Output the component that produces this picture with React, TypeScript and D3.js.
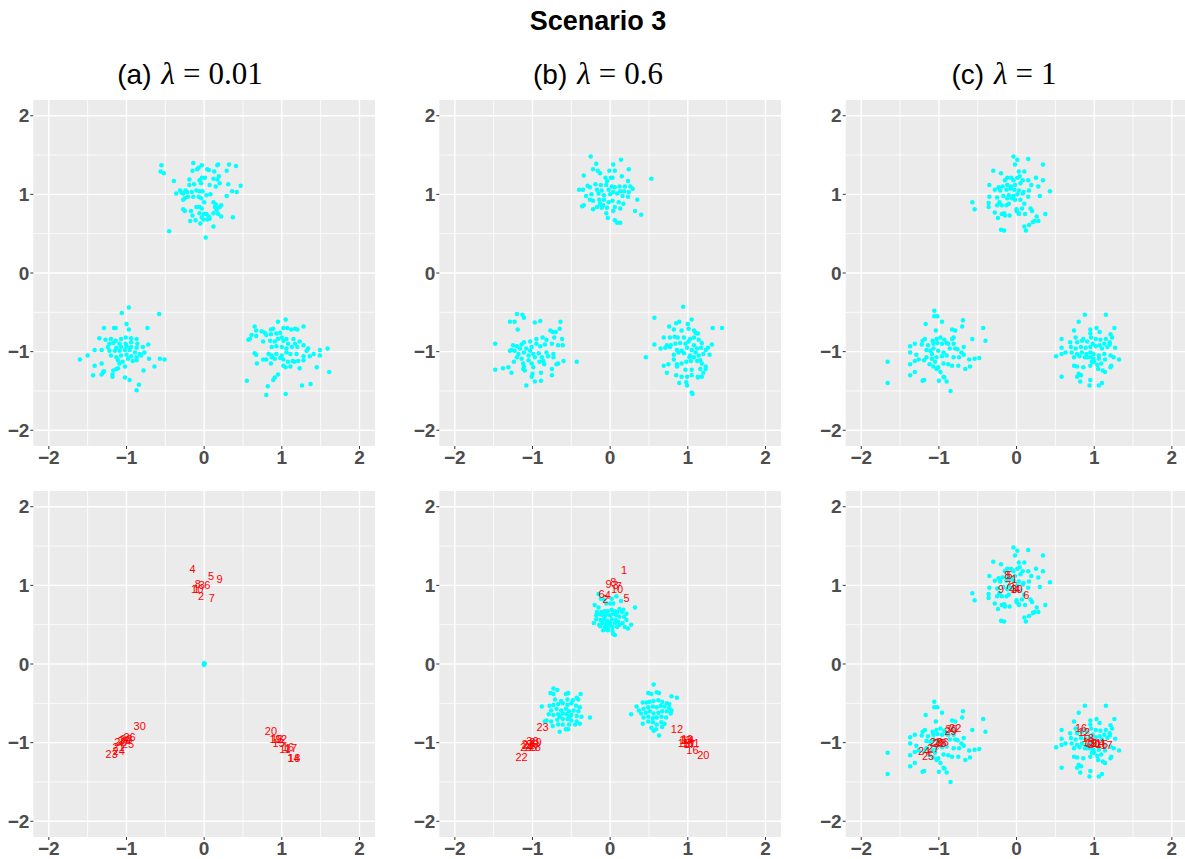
import * as d3 from "d3";

// ---- data (x, y in data units) ----

// (a) lambda = 0.01, top row: raw data
const aTopN: [number, number][] = [
  [-0.55, 1.37], [-0.56, 1.29], [-0.52, 1.27], [-0.14, 1.4], [-0.03, 1.37], [-0.09, 1.32], [-0.07, 1.34], [-0.15, 1.3],
  [0.04, 1.32], [0.06, 1.31], [0.18, 1.38], [0.17, 1.37], [0.32, 1.38], [0.41, 1.36], [0.13, 1.29], [0.29, 1.3],
  [-0.39, 1.17], [-0.19, 1.19], [-0.03, 1.21], [0.01, 1.21], [0.12, 1.2], [0.17, 1.19], [0.19, 1.23], [-0.36, 1.01],
  [-0.29, 1.02], [-0.24, 1.05], [-0.19, 1.12], [-0.13, 1.13], [-0.06, 1.18], [-0.04, 1.14], [0.07, 1.12], [0.15, 1.1],
  [0.2, 1.14], [0.31, 1.13], [0.36, 1.04], [0.47, 1.11], [0.42, 1.03], [0.29, 0.98], [-0.31, 1.05], [-0.27, 1.01],
  [-0.22, 1.03], [-0.16, 1.03], [-0.1, 1.05], [-0.06, 1.04], [-0.02, 1.04], [0.03, 0.99], [0.08, 1.0], [-0.27, 0.93],
  [-0.25, 0.95], [-0.21, 0.97], [-0.14, 0.97], [-0.07, 0.97], [-0.04, 0.95], [0.0, 0.9], [0.12, 0.9], [0.15, 0.87],
  [0.2, 0.84], [0.14, 0.84], [-0.27, 0.81], [-0.25, 0.79], [-0.17, 0.79], [-0.1, 0.84], [-0.06, 0.84], [-0.03, 0.82],
  [-0.06, 0.76], [0.0, 0.75], [0.03, 0.75], [0.06, 0.72], [0.12, 0.76], [0.16, 0.8], [0.18, 0.75], [0.22, 0.72],
  [-0.15, 0.73], [-0.03, 0.71], [-0.01, 0.68], [-0.05, 0.63], [0.04, 0.68], [0.07, 0.69], [-0.18, 0.66], [-0.11, 0.67],
  [0.37, 0.71], [0.12, 0.59], [-0.45, 0.53], [0.02, 0.45], [0.22, 0.86], [0.16, 0.82],
];
const aTopSW: [number, number][] = [
  [-0.97, -0.44], [-1.06, -0.51], [-0.58, -0.52], [-1.0, -0.65], [-1.29, -0.7], [-1.16, -0.7], [-1.14, -0.7], [-0.97, -0.72],
  [-0.73, -0.7], [-1.35, -0.83], [-1.27, -0.85], [-1.2, -0.84], [-1.14, -0.86], [-1.07, -0.84], [-1.01, -0.82], [-0.94, -0.83],
  [-0.87, -0.84], [-1.22, -0.9], [-1.17, -0.89], [-1.09, -0.9], [-1.01, -0.9], [-0.94, -0.88], [-0.86, -0.9], [-0.72, -0.91],
  [-1.24, -0.94], [-1.13, -0.95], [-1.07, -0.94], [-1.0, -0.93], [-0.94, -0.94], [-0.87, -0.95], [-0.79, -0.94], [-1.6, -1.1],
  [-1.5, -1.05], [-1.41, -0.98], [-1.32, -0.98], [-1.22, -0.99], [-1.15, -0.99], [-1.09, -0.99], [-1.02, -0.98], [-0.96, -0.98],
  [-0.89, -1.01], [-0.83, -1.03], [-0.77, -1.01], [-0.71, -1.09], [-0.57, -1.09], [-0.51, -1.1], [-1.2, -1.05], [-1.13, -1.07],
  [-1.07, -1.05], [-1.0, -1.04], [-0.94, -1.06], [-0.87, -1.07], [-0.81, -1.05], [-0.87, -1.11], [-1.41, -1.18], [-1.32, -1.15],
  [-1.11, -1.11], [-1.05, -1.13], [-0.98, -1.09], [-0.92, -1.12], [-1.09, -1.15], [-1.02, -1.19], [-1.17, -1.24], [-1.13, -1.22],
  [-1.11, -1.21], [-0.78, -1.24], [-0.64, -1.19], [-1.43, -1.3], [-1.32, -1.29], [-1.3, -1.26], [-1.18, -1.29], [-1.18, -1.32],
  [-1.02, -1.33], [-0.96, -1.36], [-0.84, -1.42], [-0.87, -1.49], [-1.29, -1.25],
];
const aTopSE: [number, number][] = [
  [0.65, -0.68], [0.67, -0.73], [0.61, -0.79], [0.57, -0.85], [0.59, -0.84], [0.74, -0.74], [0.78, -0.76], [0.86, -0.72],
  [0.89, -0.71], [0.95, -0.62], [1.05, -0.59], [1.02, -0.7], [1.07, -0.7], [1.12, -0.72], [1.17, -0.71], [1.2, -0.72],
  [1.28, -0.68], [0.67, -0.8], [0.8, -0.79], [0.86, -0.78], [0.93, -0.77], [0.98, -0.76], [1.0, -0.82], [1.06, -0.84],
  [1.15, -0.84], [1.23, -0.87], [0.76, -0.87], [0.85, -0.86], [0.91, -0.87], [0.95, -0.84], [1.02, -0.86], [1.08, -0.9],
  [1.17, -0.9], [1.28, -0.92], [1.34, -0.96], [0.87, -0.94], [0.93, -0.93], [1.0, -0.94], [1.06, -0.96], [1.13, -0.94],
  [1.2, -0.94], [1.32, -0.99], [0.65, -1.02], [0.67, -1.04], [0.83, -1.03], [0.87, -1.05], [0.93, -1.03], [1.0, -1.05],
  [1.06, -1.01], [1.11, -1.03], [1.19, -1.03], [1.28, -1.06], [1.36, -1.06], [1.49, -0.98], [1.59, -0.96], [1.49, -1.05],
  [0.87, -1.07], [0.91, -1.09], [0.98, -1.08], [1.02, -1.1], [1.08, -1.13], [1.14, -1.12], [1.21, -1.12], [1.28, -1.11],
  [1.41, -1.03], [0.68, -1.15], [0.76, -1.1], [0.8, -1.1], [0.86, -1.15], [1.02, -1.18], [1.05, -1.2], [1.11, -1.19],
  [1.16, -1.13], [1.23, -1.21], [1.45, -1.2], [1.61, -1.26], [0.55, -1.37], [0.89, -1.36], [0.91, -1.33], [0.95, -1.29],
  [0.82, -1.44], [0.8, -1.55], [1.05, -1.54], [1.26, -1.43], [1.37, -1.41],
];

// (b) lambda = 0.6, top row
const bTopN: [number, number][] = [
  [-0.25, 1.48], [0.14, 1.44], [-0.18, 1.39], [0.04, 1.38], [-0.22, 1.32], [0.24, 1.32], [-0.34, 1.24], [-0.16, 1.3],
  [-0.13, 1.27], [-0.01, 1.3], [0.06, 1.3], [0.15, 1.23], [-0.06, 1.21], [0.01, 1.21], [0.03, 1.21], [-0.04, 1.17],
  [0.23, 1.17], [0.53, 1.2], [-0.29, 1.11], [-0.19, 1.13], [-0.12, 1.12], [-0.05, 1.12], [0.02, 1.1], [0.06, 1.09],
  [0.12, 1.1], [0.19, 1.1], [0.26, 1.1], [0.29, 1.07], [-0.4, 1.06], [-0.35, 1.06], [-0.26, 1.09], [-0.17, 1.06],
  [-0.11, 1.05], [-0.02, 1.06], [0.04, 1.03], [0.13, 1.04], [0.18, 1.04], [0.24, 1.03], [-0.31, 0.98], [-0.24, 1.0],
  [-0.15, 1.01], [-0.08, 0.99], [0.0, 1.0], [0.09, 1.01], [0.16, 0.98], [0.23, 0.97], [0.35, 0.93], [-0.36, 0.85],
  [-0.34, 0.86], [-0.26, 0.93], [-0.22, 0.92], [-0.14, 0.93], [-0.08, 0.93], [-0.02, 0.9], [0.03, 0.92], [0.11, 0.9],
  [0.17, 0.88], [-0.22, 0.81], [-0.17, 0.84], [-0.11, 0.83], [-0.04, 0.83], [0.06, 0.84], [0.13, 0.82], [-0.05, 0.76],
  [0.04, 0.79], [0.32, 0.79], [-0.03, 0.7], [0.06, 0.67], [0.09, 0.64], [0.13, 0.64], [0.4, 0.74], [-0.09, 0.86],
  [-0.13, 0.88],
];
const bTopSW: [number, number][] = [
  [-1.2, -0.52], [-1.13, -0.53], [-1.11, -0.57], [-1.29, -0.62], [-1.23, -0.62], [-1.19, -0.72], [-0.97, -0.63], [-0.9, -0.61],
  [-0.64, -0.62], [-0.65, -0.71], [-0.77, -0.73], [-0.74, -0.75], [-0.7, -0.75], [-1.48, -0.9], [-1.25, -0.92], [-1.2, -0.93],
  [-1.14, -0.91], [-1.11, -0.88], [-1.03, -0.87], [-0.95, -0.84], [-0.87, -0.82], [-0.82, -0.85], [-0.72, -0.82], [-0.62, -0.84],
  [-1.27, -0.98], [-1.23, -0.99], [-1.16, -0.96], [-1.08, -0.96], [-1.01, -0.94], [-0.95, -0.9], [-0.9, -0.93], [-0.84, -0.91],
  [-0.75, -0.9], [-0.67, -0.92], [-0.61, -0.92], [-1.29, -0.99], [-1.18, -1.03], [-1.11, -1.01], [-1.03, -0.99], [-0.99, -1.03],
  [-0.92, -1.02], [-0.82, -1.01], [-0.73, -1.03], [-1.2, -1.07], [-1.14, -1.09], [-1.05, -1.05], [-0.97, -1.07], [-0.88, -1.07],
  [-0.8, -1.06], [-0.73, -1.07], [-0.67, -1.15], [-0.6, -1.12], [-0.43, -1.13], [-1.48, -1.23], [-1.38, -1.21], [-1.31, -1.2],
  [-1.24, -1.13], [-1.12, -1.15], [-1.11, -1.19], [-1.01, -1.15], [-0.99, -1.2], [-0.91, -1.13], [-0.86, -1.12], [-0.85, -1.16],
  [-0.75, -1.22], [-0.69, -1.16], [-1.27, -1.27], [-1.12, -1.22], [-1.1, -1.24], [-1.01, -1.32], [-1.0, -1.28], [-0.89, -1.27],
  [-0.75, -1.3], [-1.08, -1.43], [-0.97, -1.38], [-0.89, -1.37], [-1.05, -1.11],
];
const bTopSE: [number, number][] = [
  [0.94, -0.43], [0.57, -0.57], [1.05, -0.59], [0.89, -0.62], [0.85, -0.64], [1.0, -0.65], [1.32, -0.7], [1.44, -0.7],
  [0.76, -0.68], [0.82, -0.72], [0.92, -0.73], [1.01, -0.71], [1.08, -0.73], [1.1, -0.76], [1.13, -0.77], [0.69, -0.82],
  [0.77, -0.82], [0.83, -0.81], [0.87, -0.82], [0.95, -0.82], [1.03, -0.84], [1.08, -0.82], [1.14, -0.85], [1.18, -0.89],
  [0.57, -0.91], [0.65, -0.96], [0.73, -0.92], [0.78, -0.92], [0.84, -0.9], [0.9, -0.89], [0.97, -0.9], [1.01, -0.87],
  [1.08, -0.92], [1.12, -0.96], [1.23, -0.98], [1.31, -0.91], [0.71, -0.95], [0.77, -0.94], [0.86, -0.98], [0.92, -0.99],
  [0.99, -0.95], [1.05, -0.98], [1.1, -1.01], [1.17, -0.95], [1.26, -0.95], [1.28, -1.04], [0.46, -1.07], [0.82, -1.04],
  [0.88, -1.01], [0.95, -1.02], [1.03, -1.05], [1.08, -1.07], [1.14, -1.05], [1.2, -1.03], [0.82, -1.1], [0.86, -1.16],
  [0.92, -1.15], [0.98, -1.13], [1.04, -1.12], [1.12, -1.12], [1.18, -1.15], [1.23, -1.19], [0.69, -1.18], [0.75, -1.16],
  [0.86, -1.19], [0.97, -1.23], [1.05, -1.23], [1.16, -1.22], [1.23, -1.22], [0.73, -1.27], [0.85, -1.3], [0.92, -1.32],
  [0.99, -1.32], [1.05, -1.3], [1.13, -1.32], [1.2, -1.27], [1.18, -1.32], [0.89, -1.4], [0.98, -1.39], [0.99, -1.43],
  [1.05, -1.52], [1.06, -1.54], [1.13, -1.33], [1.16, -1.11], [1.02, -1.07],
];

// (c) lambda = 1, top row (the bottom row shows the same points)
const cTopN: [number, number][] = [
  [-0.04, 1.48], [0.01, 1.44], [-0.02, 1.38], [0.15, 1.45], [0.34, 1.38], [-0.3, 1.3], [-0.2, 1.27], [0.03, 1.29],
  [0.1, 1.29], [-0.12, 1.21], [-0.07, 1.21], [0.01, 1.21], [0.04, 1.23], [-0.15, 1.18], [-0.04, 1.18], [0.08, 1.18],
  [0.15, 1.18], [0.25, 1.21], [0.34, 1.18], [-0.35, 1.12], [-0.23, 1.09], [-0.18, 1.1], [-0.12, 1.12], [-0.07, 1.1],
  [-0.02, 1.12], [0.05, 1.14], [0.19, 1.12], [0.28, 1.1], [0.43, 1.04], [-0.28, 1.06], [-0.21, 1.05], [-0.13, 1.06],
  [-0.08, 1.07], [-0.03, 1.06], [0.03, 1.05], [0.09, 1.03], [0.16, 1.05], [-0.35, 0.97], [-0.25, 0.96], [-0.17, 0.98],
  [-0.1, 0.99], [-0.04, 0.98], [0.01, 1.0], [0.08, 1.01], [0.15, 0.97], [0.3, 0.98], [-0.57, 0.9], [-0.36, 0.89],
  [-0.22, 0.9], [-0.12, 0.95], [-0.06, 0.95], [-0.02, 0.93], [0.05, 0.93], [0.1, 0.88], [0.18, 0.82], [-0.54, 0.81],
  [-0.36, 0.84], [-0.25, 0.86], [-0.19, 0.86], [-0.13, 0.86], [0.0, 0.81], [0.07, 0.82], [0.2, 0.79], [-0.28, 0.77],
  [-0.19, 0.75], [-0.15, 0.73], [-0.16, 0.76], [-0.09, 0.73], [0.0, 0.79], [0.03, 0.75], [0.11, 0.75], [0.26, 0.72],
  [0.37, 0.75], [-0.24, 0.7], [0.21, 0.65], [0.28, 0.66], [0.23, 0.66], [0.16, 0.61], [0.1, 0.59], [0.12, 0.54],
  [-0.2, 0.55], [-0.16, 0.54], [0.03, 0.76], [-0.1, 0.88],
];
const cTopSW: [number, number][] = [
  [-1.06, -0.48], [-1.06, -0.55], [-1.02, -0.55], [-0.96, -0.62], [-1.17, -0.65], [-1.04, -0.73], [-0.69, -0.6], [-0.7, -0.68],
  [-0.43, -0.7], [-0.83, -0.72], [-0.79, -0.73], [-1.18, -0.84], [-1.21, -0.86], [-1.08, -0.86], [-0.98, -0.82], [-1.03, -0.84],
  [-0.93, -0.85], [-0.83, -0.84], [-0.81, -0.82], [-0.57, -0.84], [-0.4, -0.86], [-1.31, -0.9], [-1.37, -0.93], [-1.22, -0.91],
  [-1.14, -0.92], [-1.07, -0.9], [-1.02, -0.89], [-0.96, -0.9], [-0.9, -0.89], [-0.81, -0.9], [-0.68, -0.94], [-0.88, -0.9],
  [-1.37, -1.01], [-1.29, -1.04], [-1.16, -0.98], [-1.11, -0.99], [-1.07, -0.96], [-1.01, -0.99], [-0.94, -1.01], [-0.86, -0.96],
  [-0.79, -0.96], [-0.76, -0.97], [-0.71, -1.01], [-0.61, -1.1], [-0.54, -1.09], [-0.48, -1.08], [-1.26, -1.1], [-1.16, -1.07],
  [-1.09, -1.09], [-1.03, -1.07], [-0.96, -1.06], [-0.9, -1.05], [-0.81, -1.07], [-0.74, -1.07], [-0.68, -1.04], [-1.37, -1.16],
  [-1.31, -1.12], [-1.19, -1.11], [-1.05, -1.13], [-0.94, -1.15], [-0.88, -1.16], [-0.83, -1.18], [-0.75, -1.18], [-0.66, -1.22],
  [-0.6, -1.19], [-1.07, -1.19], [-1.01, -1.2], [-1.03, -1.22], [-0.98, -1.26], [-1.37, -1.3], [-1.31, -1.26], [-1.21, -1.37],
  [-1.19, -1.36], [-1.0, -1.37], [-0.94, -1.32], [-0.9, -1.38], [-0.93, -1.33], [-0.85, -1.5], [-1.66, -1.13], [-1.66, -1.4],
  [-1.12, -1.16], [-1.09, -1.03],
];
const cTopSE: [number, number][] = [
  [0.88, -0.53], [1.15, -0.53], [0.8, -0.62], [1.03, -0.7], [0.95, -0.72], [1.07, -0.75], [1.26, -0.7], [0.74, -0.73],
  [1.21, -0.78], [0.76, -0.82], [0.86, -0.84], [0.95, -0.77], [0.96, -0.82], [1.02, -0.84], [1.08, -0.85], [1.15, -0.84],
  [1.2, -0.88], [1.23, -0.82], [0.58, -0.84], [0.69, -0.88], [0.78, -0.88], [0.84, -0.86], [0.91, -0.87], [0.98, -0.9],
  [1.07, -0.92], [1.13, -0.9], [1.2, -0.91], [0.58, -0.95], [0.7, -0.94], [0.76, -0.96], [0.83, -0.94], [0.89, -0.95],
  [0.95, -0.94], [1.02, -0.93], [1.1, -0.96], [1.17, -0.94], [1.27, -0.95], [0.71, -1.01], [0.78, -1.03], [0.84, -1.01],
  [0.9, -1.03], [0.95, -1.01], [0.99, -1.03], [1.06, -1.05], [1.13, -1.03], [1.21, -1.05], [0.51, -1.06], [0.58, -1.03],
  [0.63, -1.01], [0.74, -1.07], [0.81, -1.06], [0.88, -1.07], [0.95, -1.07], [0.99, -1.09], [1.06, -1.09], [1.14, -1.1],
  [1.25, -1.07], [1.32, -1.1], [0.74, -1.18], [0.78, -1.19], [0.86, -1.2], [0.95, -1.18], [1.0, -1.13], [1.05, -1.22],
  [1.11, -1.24], [1.14, -1.26], [1.22, -1.18], [1.21, -1.2], [1.04, -1.17], [1.09, -1.15], [0.58, -1.32], [0.8, -1.28],
  [0.83, -1.3], [0.78, -1.32], [0.95, -1.36], [0.82, -1.38], [0.94, -1.43], [1.06, -1.43], [1.1, -1.4], [0.91, -1.07],
  [0.97, -1.13],
];

// bottom row, fitted points
const aBotAll: [number, number][] = [[0, 0], [0, 0.01], [0, -0.01], [0.005, 0.005], [-0.005, -0.005]];

const bBotN: [number, number][] = [
  [-0.15, 0.89], [-0.12, 0.83], [-0.08, 0.82], [0.02, 0.83], [0.08, 0.86], [0.14, 0.8], [-0.2, 0.75], [-0.15, 0.72],
  [-0.05, 0.77], [0.0, 0.77], [0.04, 0.77], [0.12, 0.7], [0.17, 0.69], [0.32, 0.72], [-0.17, 0.66], [-0.11, 0.66],
  [-0.07, 0.67], [-0.03, 0.67], [0.02, 0.69], [0.06, 0.67], [0.09, 0.66], [0.15, 0.66], [0.21, 0.64], [-0.18, 0.62],
  [-0.13, 0.63], [-0.09, 0.62], [-0.05, 0.63], [0.0, 0.62], [0.04, 0.64], [0.08, 0.62], [0.12, 0.6], [0.18, 0.6],
  [-0.18, 0.57], [-0.12, 0.56], [-0.08, 0.57], [-0.04, 0.55], [0.02, 0.57], [0.07, 0.56], [0.1, 0.54], [0.21, 0.56],
  [-0.21, 0.52], [-0.14, 0.5], [-0.1, 0.52], [-0.05, 0.51], [0.0, 0.5], [0.06, 0.52], [0.12, 0.5], [0.16, 0.52],
  [0.27, 0.5], [-0.13, 0.48], [-0.07, 0.47], [-0.03, 0.46], [0.03, 0.47], [0.09, 0.47], [0.19, 0.47], [-0.09, 0.43],
  [-0.03, 0.43], [0.03, 0.42], [0.23, 0.45], [0.04, 0.38], [0.06, 0.37], [-0.05, 0.45], [0.0, 0.53], [-0.07, 0.6],
];
const bBotSW: [number, number][] = [
  [-0.73, -0.31], [-0.68, -0.33], [-0.77, -0.37], [-0.73, -0.38], [-0.57, -0.38], [-0.54, -0.37], [-0.38, -0.38], [-0.43, -0.43],
  [-0.71, -0.45], [-0.63, -0.47], [-0.55, -0.45], [-0.48, -0.46], [-0.41, -0.45], [-0.88, -0.54], [-0.78, -0.53], [-0.73, -0.52],
  [-0.67, -0.51], [-0.61, -0.5], [-0.55, -0.52], [-0.5, -0.5], [-0.44, -0.53], [-0.39, -0.55], [-0.76, -0.59], [-0.69, -0.57],
  [-0.63, -0.59], [-0.57, -0.57], [-0.53, -0.6], [-0.47, -0.59], [-0.41, -0.6], [-0.79, -0.64], [-0.73, -0.65], [-0.67, -0.64],
  [-0.61, -0.63], [-0.56, -0.64], [-0.5, -0.65], [-0.43, -0.66], [-0.37, -0.67], [-0.26, -0.68], [-0.82, -0.72], [-0.76, -0.73],
  [-0.68, -0.71], [-0.61, -0.7], [-0.55, -0.7], [-0.5, -0.72], [-0.43, -0.73], [-0.74, -0.79], [-0.67, -0.77], [-0.61, -0.77],
  [-0.53, -0.77], [-0.45, -0.77], [-0.39, -0.76], [-0.57, -0.83], [-0.54, -0.83], [-0.65, -0.86], [-0.84, -0.73], [-0.65, -0.67],
  [-0.52, -0.67],
];
const bBotSE: [number, number][] = [
  [0.56, -0.26], [0.49, -0.37], [0.53, -0.38], [0.6, -0.36], [0.63, -0.37], [0.79, -0.41], [0.86, -0.43], [0.34, -0.54],
  [0.42, -0.49], [0.47, -0.49], [0.51, -0.48], [0.56, -0.47], [0.62, -0.46], [0.67, -0.48], [0.73, -0.5], [0.37, -0.59],
  [0.43, -0.57], [0.49, -0.55], [0.55, -0.54], [0.6, -0.55], [0.65, -0.53], [0.7, -0.54], [0.76, -0.56], [0.27, -0.64],
  [0.4, -0.63], [0.46, -0.62], [0.51, -0.6], [0.56, -0.63], [0.62, -0.62], [0.67, -0.6], [0.73, -0.6], [0.78, -0.63],
  [0.43, -0.68], [0.49, -0.67], [0.55, -0.69], [0.6, -0.68], [0.66, -0.67], [0.72, -0.68], [0.42, -0.76], [0.49, -0.73],
  [0.55, -0.74], [0.6, -0.77], [0.66, -0.74], [0.7, -0.76], [0.53, -0.81], [0.59, -0.83], [0.67, -0.8], [0.63, -0.91],
  [0.56, -0.85], [0.79, -0.59], [0.76, -0.51],
];

// bottom row, labelled centres 1..30
const aLabels: [number, number][] = [
  [-0.1, 0.96], [-0.04, 0.86], [-0.03, 1.0], [-0.15, 1.21], [0.09, 1.12], [0.04, 1.0], [0.1, 0.84], [-0.08, 1.02], [0.2, 1.08], [-0.09, 0.96],
  [1.04, -1.08], [0.99, -0.95], [0.94, -0.95], [1.15, -1.19], [0.96, -1.0], [1.08, -1.05], [1.12, -1.07], [1.16, -1.19], [0.92, -0.95], [0.86, -0.85],
  [-1.1, -1.06], [-1.08, -0.99], [-1.19, -1.15], [-1.1, -1.1], [-0.98, -1.02], [-0.96, -0.93], [-1.04, -0.98], [-1.0, -0.95], [-1.02, -0.97], [-0.83, -0.79],
];
const bLabels: [number, number][] = [
  [0.18, 1.2], [-0.06, 0.83], [0.07, 1.0], [-0.03, 0.88], [0.21, 0.84], [-0.11, 0.89], [0.11, 0.99], [0.04, 1.04], [-0.02, 1.02], [0.09, 0.95],
  [1.08, -1.01], [0.86, -0.83], [0.97, -0.97], [1.0, -0.97], [0.95, -1.0], [1.06, -1.09], [1.02, -1.02], [1.0, -1.0], [0.99, -0.96], [1.2, -1.16],
  [-1.05, -1.03], [-1.14, -1.18], [-0.87, -0.8], [-1.08, -1.06], [-1.02, -1.05], [-1.0, -1.02], [-1.06, -1.02], [-0.97, -1.05], [-0.96, -0.99], [-1.0, -0.98],
];
const cLabels: [number, number][] = [
  [-0.03, 1.08], [-0.06, 0.985], [-0.03, 0.95], [0.01, 0.95], [-0.09, 1.13], [0.125, 0.88], [-0.11, 1.01], [-0.12, 1.13], [-0.2, 0.955], [0.0, 0.95],
  [1.02, -1.0], [0.87, -0.86], [0.93, -0.99], [1.06, -1.0], [1.1, -1.02], [0.83, -0.82], [1.16, -1.03], [0.92, -0.94], [0.96, -1.01], [1.0, -1.02],
  [-1.0, -1.0], [-0.79, -0.81], [-1.04, -0.99], [-1.19, -1.11], [-1.14, -1.17], [-0.95, -0.99], [-1.07, -1.07], [-0.98, -1.0], [-0.85, -0.85], [-0.84, -0.83],
];

const panelTags = ["(a)", "(b)", "(c)"];
const lambdas = ["0.01", "0.6", "1"];
const tickValues = [-2, -1, 0, 1, 2];
const tickLabels = ["\u22122", "\u22121", "0", "1", "2"];
const minorValues = [-1.5, -0.5, 0.5, 1.5];

// ---- layout ----
const WIDTH = 1185;
const HEIGHT = 859;
const COL_LEFT = [33.3, 439.3, 845.7];
const ROW_TOP = [100, 491];
const PANEL_W = 341.7;
const PANEL_H = 346;
const TAG_X = [190, 598, 1004];
const DOMAIN: [number, number] = [-2.2, 2.2];

type PanelProps = {
  left: number;
  top: number;
  points: [number, number][];
  labels?: [number, number][];
};

const Panel = ({ left, top, points, labels }: PanelProps) => {
  const x = d3.scaleLinear().domain(DOMAIN).range([left, left + PANEL_W]);
  const y = d3.scaleLinear().domain(DOMAIN).range([top + PANEL_H, top]);
  const bottom = top + PANEL_H;
  return (
    <g>
      <rect x={left} y={top} width={PANEL_W} height={PANEL_H} fill="#EBEBEB" />
      {minorValues.map((v) => (
        <g key={"mn" + v}>
          <line x1={x(v)} x2={x(v)} y1={top} y2={bottom} stroke="#fff" strokeWidth={0.8} />
          <line x1={left} x2={left + PANEL_W} y1={y(v)} y2={y(v)} stroke="#fff" strokeWidth={0.8} />
        </g>
      ))}
      {tickValues.map((v) => (
        <g key={"mj" + v}>
          <line x1={x(v)} x2={x(v)} y1={top} y2={bottom} stroke="#fff" strokeWidth={1.4} />
          <line x1={left} x2={left + PANEL_W} y1={y(v)} y2={y(v)} stroke="#fff" strokeWidth={1.4} />
        </g>
      ))}
      {points.map((p, i) => (
        <circle key={"p" + i} cx={x(p[0])} cy={y(p[1])} r={2.25} fill="#00FFFF" />
      ))}
      {labels &&
        labels.map((p, i) => (
          <text
            key={"l" + i}
            x={x(p[0])}
            y={y(p[1])}
            textAnchor="middle"
            dominantBaseline="central"
            fontFamily="Liberation Sans, Arial, sans-serif"
            fontSize={11}
            fill="#FF0000"
          >
            {i + 1}
          </text>
        ))}
      {/* axes */}
      {tickValues.map((v, i) => (
        <g key={"t" + v} fill="#4D4D4D" fontFamily="Liberation Sans, Arial, sans-serif" fontWeight="bold" fontSize={19}>
          <line x1={left - 3} x2={left} y1={y(v)} y2={y(v)} stroke="#333" strokeWidth={1} />
          <text x={left - 4} y={y(v)} textAnchor="end" dominantBaseline="central">
            {tickLabels[i]}
          </text>
          <line x1={x(v)} x2={x(v)} y1={bottom} y2={bottom + 3} stroke="#333" strokeWidth={1} />
          <text x={x(v)} y={bottom + 18} textAnchor="middle">
            {tickLabels[i]}
          </text>
        </g>
      ))}
    </g>
  );
};

export default function App() {
  const topRow = [
    [...aTopN, ...aTopSW, ...aTopSE],
    [...bTopN, ...bTopSW, ...bTopSE],
    [...cTopN, ...cTopSW, ...cTopSE],
  ];
  const bottomRow = [aBotAll, [...bBotN, ...bBotSW, ...bBotSE], topRow[2]];
  const bottomLabels = [aLabels, bLabels, cLabels];

  return (
    <div style={{ position: "absolute", left: 0, top: 0 }}>
      <svg width={WIDTH} height={HEIGHT} style={{ display: "block", background: "#fff" }}>
        <text
          x={598}
          y={30}
          textAnchor="middle"
          fontFamily="Liberation Sans, Arial, sans-serif"
          fontWeight="bold"
          fontSize={27}
          fill="#000"
        >
          Scenario 3
        </text>
        {panelTags.map((tag, i) => (
          <text key={tag} x={TAG_X[i]} y={84} textAnchor="middle" fill="#000">
            <tspan fontFamily="Liberation Sans, Arial, sans-serif" fontSize={28}>
              {tag}
            </tspan>
            <tspan dx={10} fontFamily="Liberation Serif, serif" fontStyle="italic" fontSize={31}>
              λ
            </tspan>
            <tspan dx={8} fontFamily="Liberation Serif, serif" fontSize={31}>
              =
            </tspan>
            <tspan dx={8} fontFamily="Liberation Serif, serif" fontSize={31}>
              {lambdas[i]}
            </tspan>
          </text>
        ))}
        {topRow.map((pts, i) => (
          <Panel key={"top" + i} left={COL_LEFT[i]} top={ROW_TOP[0]} points={pts} />
        ))}
        {bottomRow.map((pts, i) => (
          <Panel key={"bot" + i} left={COL_LEFT[i]} top={ROW_TOP[1]} points={pts} labels={bottomLabels[i]} />
        ))}
      </svg>
    </div>
  );
}
